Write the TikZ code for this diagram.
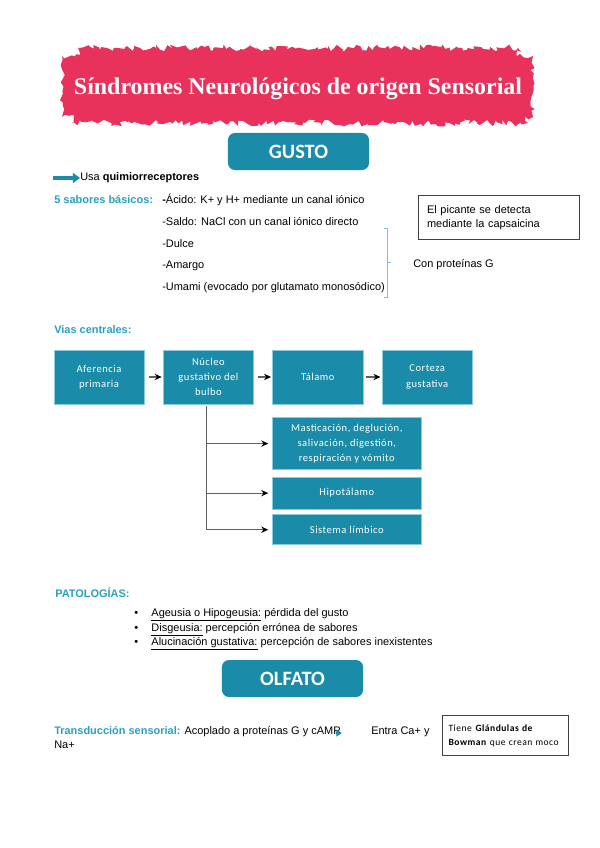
\documentclass[tikz,border=0pt]{standalone}
\usepackage{fontspec}
\setmainfont{Liberation Sans}
\newfontfamily\boxfont{Carlito}
\newfontfamily\spacedfont[LetterSpace=5]{Carlito}
\newfontfamily\titlefont{Liberation Serif}
\usetikzlibrary{shapes,arrows,arrows.meta,positioning,calc,decorations.pathmorphing}

\definecolor{tealbox}{HTML}{1A8BA8}
\definecolor{tealedge}{HTML}{8CCBDD}
\definecolor{tealtext}{HTML}{2A9FC2}
\definecolor{brush}{HTML}{E8315B}
\definecolor{bracecol}{HTML}{7CC3D9}

\begin{document}
\begin{tikzpicture}[
    x=0.025cm, y=-0.025cm,
    node distance=0.47cm and 0.47cm,
    txt/.style={anchor=west, inner sep=0pt, font=\fontsize{7.8}{9.4}\selectfont},
    heading/.style={txt, text=tealtext, font=\fontsize{7.8}{9.4}\selectfont\bfseries},
    titlebox/.style={rectangle, rounded corners=5pt, fill=tealbox, text=white, font=\boxfont\bfseries\fontsize{14.5}{16}\selectfont, minimum width=3.525cm, minimum height=0.925cm},
    flowbox/.style={rectangle, draw=tealedge, fill=tealbox, text=white, font=\spacedfont\fontsize{7.5}{10.7}\selectfont, align=center, minimum width=2.25cm, minimum height=1.35cm, inner sep=1pt},
    widebox/.style={flowbox, minimum width=3.7cm},
    note/.style={rectangle, draw=black!75, line width=0.8pt, align=left, anchor=north west},
    arrow/.style={-{Stealth[length=5pt, width=4.5pt, color=black]}, draw=gray!75!black, line width=0.9pt}
]
    \useasboundingbox (0,0) rectangle (599,848);

    % title brush
    \pgfmathsetseed{7}
    \fill[brush, decorate, decoration={random steps, segment length=3pt, amplitude=2pt}] (62,56) rectangle (533,117);
    \fill[brush, decorate, decoration={random steps, segment length=2pt, amplitude=2.5pt}] (78,48) rectangle (518,64);
    \fill[brush, decorate, decoration={random steps, segment length=2pt, amplitude=2.5pt}] (72,108) rectangle (528,123);
    \node[text=white, font=\titlefont\bfseries\fontsize{17}{20}\selectfont] (title) at (298,89) {Síndromes Neurológicos de origen Sensorial};

    % GUSTO
    \node[titlebox] (gusto) at (298.5,151.5) {GUSTO};

    \coordinate (usastart) at (53,178);
    \node[txt] (usa) at (80,178) {Usa \textbf{quimiorreceptores}};
    \draw[-{Triangle[length=5pt, width=7pt]}, tealbox, line width=2.6pt] (usastart) -- (usa.west);

    \node[heading] (sabores) at (54,200) {5 sabores básicos:};
    \node[txt] (acido) at (162,200) {\textbf{-}Ácido: K+ y H+ mediante un canal iónico};
    \node[txt] (saldo) at (162,222) {-Saldo: NaCl con un canal iónico directo};
    \node[txt] (dulce) at (162,244) {-Dulce};
    \node[txt] (amargo) at (162,266) {-Amargo};
    \node[txt] (umami) at (162,288) {-Umami (evocado por glutamato monosódico)};

    \draw[bracecol, line width=0.7pt] (384,228) -- (387,228) -- (387,297) -- (384,297);
    \draw[bracecol, line width=0.7pt] (387,262) -- (391,262);
    \node[txt] (proteinas) at (413,265) {Con proteínas G};

    \node[note, minimum width=4.025cm, minimum height=1.1cm, text width=3.6cm, inner xsep=0.2cm, font=\fontsize{7.8}{10}\selectfont] (picante) at (418,195) {El picante se detecta\\mediante la capsaicina};

    % vias centrales
    \node[heading] (vias) at (54,330) {Vias centrales:};

    \node[flowbox] (aferencia) at (99,377) {Aferencia\\primaria};
    \node[flowbox, right=of aferencia] (nucleo) {Núcleo\\gustativo del\\bulbo};
    \node[flowbox, right=of nucleo] (talamo) {Tálamo};
    \node[flowbox, right=of talamo] (corteza) {Corteza\\gustativa};

    \node[widebox, minimum height=1.3cm, below=0.325cm of talamo.south west, anchor=north west] (mastic) {Masticación, deglución,\\salivación, digestión,\\respiración y vómito};
    \node[widebox, minimum height=0.8cm, below=0.175cm of mastic.south west, anchor=north west] (hipot) {Hipotálamo};
    \node[widebox, minimum height=0.75cm, below=0.125cm of hipot.south west, anchor=north west] (limbico) {Sistema límbico};

    \draw[arrow, shorten <=3pt, shorten >=1pt] (aferencia) -- (nucleo);
    \draw[arrow, shorten <=3pt, shorten >=1pt] (nucleo) -- (talamo);
    \draw[arrow, shorten <=2pt, shorten >=1pt] (talamo) -- (corteza);

    \coordinate (trunk) at ($(nucleo.south)+(-2,2)$);
    \draw[arrow, shorten >=3pt] (trunk) |- (mastic.west);
    \draw[arrow, shorten >=3pt] (trunk) |- (hipot.west);
    \draw[arrow, shorten >=3pt] (trunk) |- (limbico.west);

    % patologias
    \node[heading] (patologias) at (55,593) {PATOLOGÍAS:};
    \node[txt] (ageusia) at (134,615) {\textbullet\hspace{9.5pt}\underline{Ageusia o Hipogeusia:} pérdida del gusto};
    \node[txt] (disgeusia) at (134,630) {\textbullet\hspace{9.5pt}\underline{Disgeusia:} percepción errónea de sabores};
    \node[txt] (alucinacion) at (134,644) {\textbullet\hspace{9.5pt}\underline{Alucinación gustativa:} percepción de sabores inexistentes};

    % OLFATO
    \node[titlebox] (olfato) at (292.5,678.5) {OLFATO};

    \node[txt] (transduccion) at (54,732) {{\color{tealtext}\bfseries Transducción sensorial:} Acoplado a proteínas G y cAMP};
    \draw[-{Triangle[length=4pt, width=5pt]}, tealbox, line width=1pt] ($(transduccion.east)+(-5,1)$) -- ++(6,0);
    \node[txt] (entra) at (371,732) {Entra Ca+ y};
    \node[txt] (na) at (54,745) {Na+};

    \node[note, minimum width=3.05cm, minimum height=1.0cm, text width=2.85cm, inner xsep=0.15cm, font=\spacedfont\fontsize{6.8}{10}\selectfont] (bowman) at (442,715) {Tiene \textbf{Glándulas de}\\\textbf{Bowman} que crean moco};
\end{tikzpicture}
\end{document}
